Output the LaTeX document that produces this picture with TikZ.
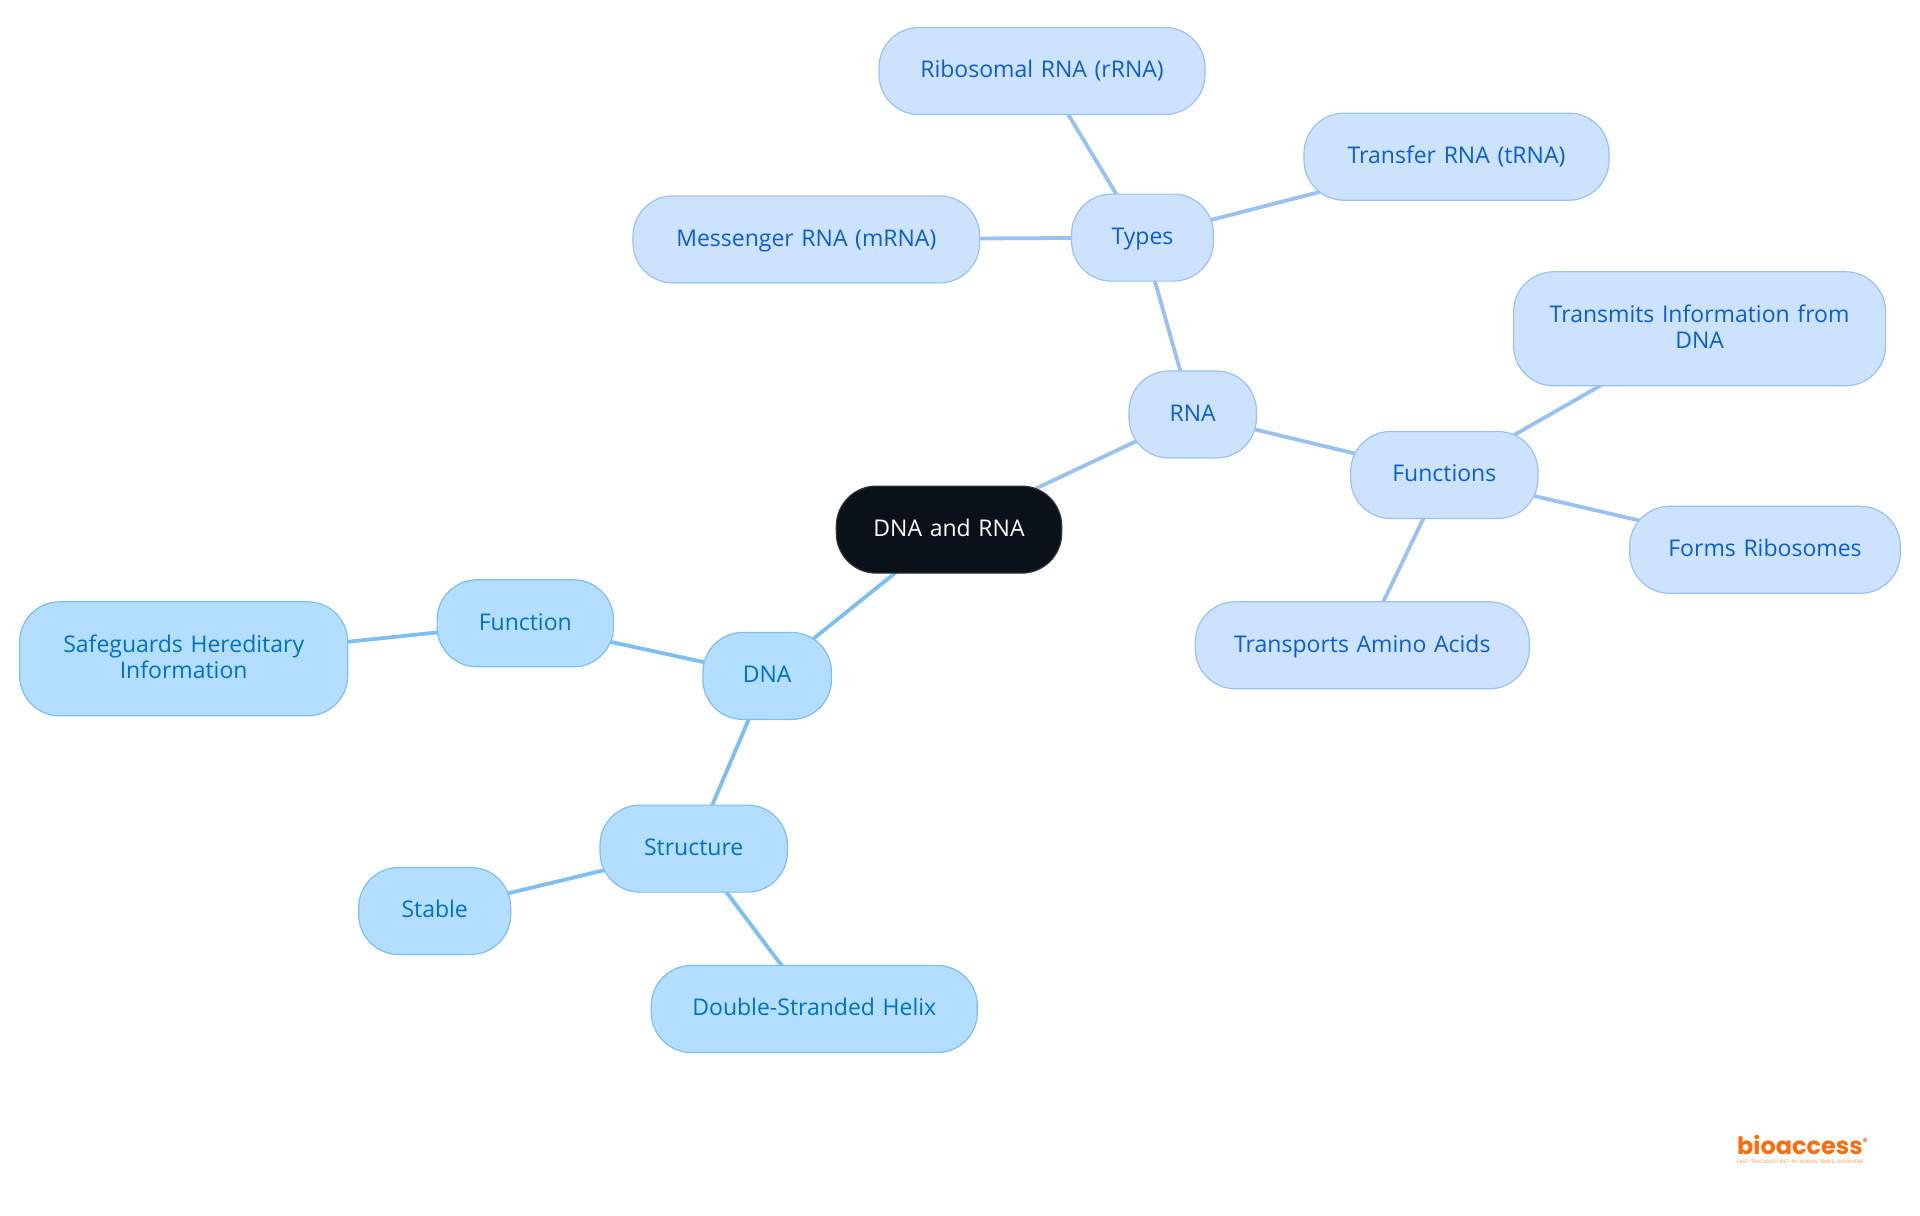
\documentclass[tikz,border=0pt]{standalone}
\usepackage{fontspec}
\setmainfont{Open Sans}
\newfontfamily\logofont{Poppins}
\usetikzlibrary{backgrounds}
\definecolor{rootfill}{HTML}{0B1119}
\definecolor{rnafill}{HTML}{CCE2FD}
\definecolor{rnaline}{HTML}{99C2F4}
\definecolor{rnatext}{HTML}{0B5FCC}
\definecolor{dnafill}{HTML}{B3DEFF}
\definecolor{dnaline}{HTML}{7CC0F2}
\definecolor{dnatext}{HTML}{0070C4}
\definecolor{logoorange}{HTML}{FF6B0A}
\tikzset{
	box/.style={draw, rectangle, rounded corners=20pt, line width=0.6pt, minimum height=43.5pt, inner sep=0pt, align=center, text width=#1, text height=9.5pt, text depth=2.8pt, font=\fontsize{11.5}{13}\selectfont},
	twoline/.style={minimum height=57pt, text height=8pt, text depth=14.4pt},
	rootbox/.style={box=112.7pt, fill=rootfill, draw=rootfill!85!white, text=white},
	rnabox/.style={box=#1, fill=rnafill, draw=rnaline, text=rnatext},
	dnabox/.style={box=#1, fill=dnafill, draw=dnaline, text=dnatext},
	rnalink/.style={draw=rnaline, line width=1.9pt},
	dnalink/.style={draw=dnaline, line width=1.9pt},
}
\begin{document}
\begin{tikzpicture}[x=0.5pt, y=-0.5pt]
	\useasboundingbox (0,0) rectangle (1920,1215);
	\node (root) [rootbox] at (949,529.6) {DNA and RNA};

	\node (rna) [rnabox=63.7pt] at (1192.7,414.5) {RNA};
	\node (types) [rnabox=71pt] at (1142.5,237.6) {Types};
	\node (ribosomal) [rnabox=163pt] at (1042,71) {Ribosomal RNA (rRNA)};
	\node (transfer) [rnabox=152.5pt] at (1456.5,156.7) {Transfer RNA (tRNA)};
	\node (messenger) [rnabox=173.3pt] at (806.3,239.4) {Messenger RNA (mRNA)};
	\node (functions) [rnabox=93.7pt] at (1444.3,475) {Functions};
	\node (transmits) [rnabox=186pt, twoline] at (1699.6,328.8) {Transmits Information from\\DNA};
	\node (forms) [rnabox=135.3pt] at (1765,549.8) {Forms Ribosomes};
	\node (transports) [rnabox=167pt] at (1362.3,645.3) {Transports Amino Acids};

	\node (dna) [dnabox=64.3pt] at (767.2,675.9) {DNA};
	\node (function) [dnabox=88.2pt] at (525.3,623.3) {Function};
	\node (safeguards) [dnabox=164pt, twoline] at (183.7,658.8) {Safeguards Hereditary\\Information};
	\node (structure) [dnabox=93.7pt] at (693.7,848.6) {Structure};
	\node (stable) [dnabox=76pt] at (434.7,911) {Stable};
	\node (helix) [dnabox=163pt] at (814.3,1009) {Double-Stranded Helix};

	\node (logo) [text=logoorange, inner sep=0pt, font=\logofont\bfseries\fontsize{12}{12}\selectfont] at (1803,1145) {bioaccess\textsuperscript{\fontsize{5}{5}\selectfont ®}};
	\node (tagline) [text=logoorange!70!white, inner sep=0pt, font=\logofont\fontsize{2.5}{3}\selectfont] at (1800,1162.5) {FAST-TRACKING FIRST-IN-HUMAN TRIALS, ANYWHERE};

	\begin{scope}[on background layer]
		\draw[rnalink] (root.center) -- (rna.center);
		\draw[rnalink] (rna.center) -- (types.center);
		\draw[rnalink] (types.center) -- (ribosomal.center);
		\draw[rnalink] (types.center) -- (transfer.center);
		\draw[rnalink] (types.center) -- (messenger.center);
		\draw[rnalink] (rna.center) -- (functions.center);
		\draw[rnalink] (functions.center) -- (transmits.center);
		\draw[rnalink] (functions.center) -- (forms.center);
		\draw[rnalink] (functions.center) -- (transports.center);
		\draw[dnalink] (root.center) -- (dna.center);
		\draw[dnalink] (dna.center) -- (function.center);
		\draw[dnalink] (function.center) -- (safeguards.center);
		\draw[dnalink] (dna.center) -- (structure.center);
		\draw[dnalink] (structure.center) -- (stable.center);
		\draw[dnalink] (structure.center) -- (helix.center);
	\end{scope}
\end{tikzpicture}
\end{document}
